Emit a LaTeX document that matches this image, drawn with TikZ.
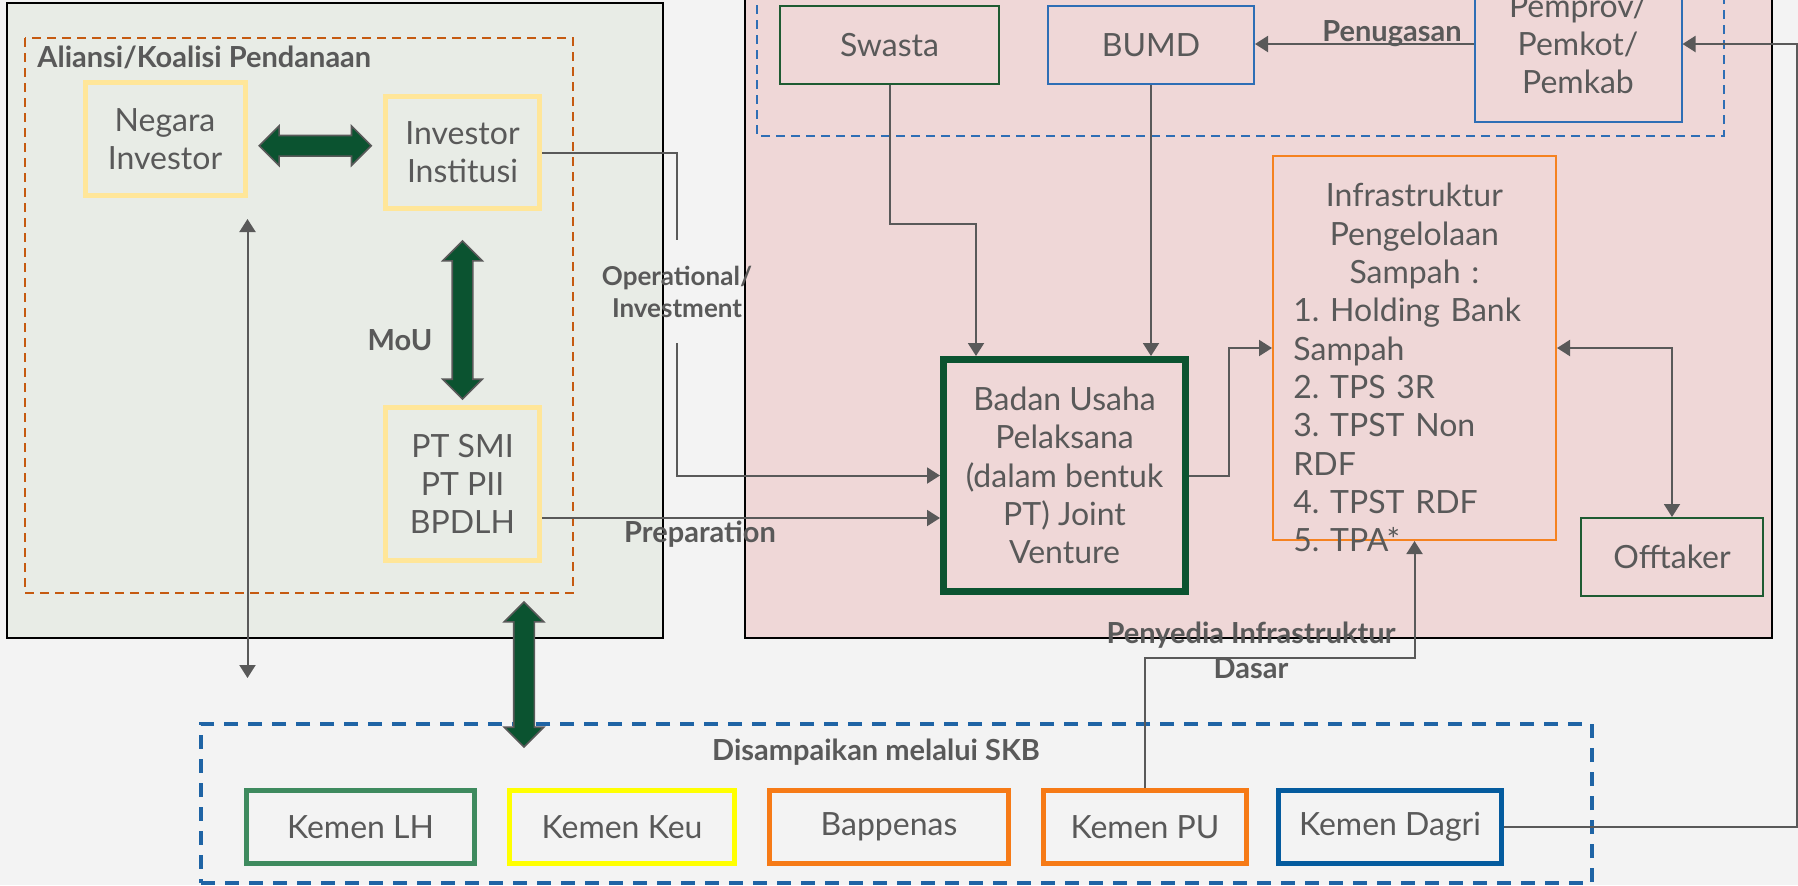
\documentclass[tikz,border=0pt]{standalone}
\usepackage{fontspec}
\setmainfont{Lato}
\usepackage{tikz}
\usetikzlibrary{shapes.arrows,arrows.meta,calc}

\definecolor{pagebg}{HTML}{F3F3F3}
\definecolor{fundbg}{HTML}{E8ECE6}
\definecolor{projbg}{HTML}{EFD7D7}
\definecolor{txtgray}{HTML}{595959}
\definecolor{fundline}{HTML}{C55A11}
\definecolor{fundyellow}{HTML}{FFE699}
\definecolor{arrowgreen}{HTML}{0B5330}
\definecolor{govblue}{HTML}{2E6EB5}
\definecolor{skbblue}{HTML}{1F64A5}
\definecolor{privgreen}{HTML}{1E5B32}
\definecolor{infraorange}{HTML}{F58220}
\definecolor{lhgreen}{HTML}{3E8A5E}
\definecolor{keuyellow}{HTML}{FFFF00}
\definecolor{bapporange}{HTML}{F67A16}
\definecolor{dagriblue}{HTML}{045B9E}

\begin{document}
\frenchspacing
\begin{tikzpicture}[x=.5pt,y=-.5pt,
box/.style={rectangle,draw,inner sep=0pt,align=center,text=txtgray,font=\fontsize{16}{19.15}\selectfont},
fund/.style={box,draw=fundyellow,line width=2.5pt},
thin/.style={box,line width=1pt},
kemen/.style={box,line width=2.5pt,minimum height=36.5pt},
lbl/.style={text=txtgray,inner sep=0pt,align=center,font=\bfseries\fontsize{14.5}{17.5}\selectfont},
conn/.style={draw=txtgray,line width=1pt},
arr/.style={conn,-{Triangle[width=8pt,length=6.5pt]}},
twoarr/.style={conn,{Triangle[width=8pt,length=6.5pt]}-{Triangle[width=8pt,length=6.5pt]}},
bigarrow/.style={double arrow,draw=txtgray,line width=.8pt,fill=arrowgreen,inner sep=4.75pt,minimum width=19pt,double arrow head extend=4.75pt}]

\useasboundingbox (0,0) rectangle (1798,885);
\clip (0,0) rectangle (1798,885);
\fill[pagebg] (0,0) rectangle (1798,885);

\draw[fill=fundbg,line width=1pt] (7,3) rectangle (663,638);
\draw[fundline,dash pattern=on 4.5pt off 3pt,line width=1pt] (25,38) rectangle (573,593);
\node[lbl,anchor=base west] (aliansi) at (37,67) {Aliansi/Koalisi Pendanaan};

\draw[fill=projbg,line width=1pt] (745,-10) rectangle (1772,638);
\draw[govblue,dash pattern=on 4.5pt off 3pt,line width=1pt] (757,-10) rectangle (1724,136);

\node[draw=skbblue,dash pattern=on 7pt off 5pt,line width=2pt,minimum width=695.5pt,minimum height=79.5pt,inner sep=0pt] (skb) at (896.5,803.5) {};
\node[lbl,anchor=base] (skblbl) at (876,760) {Disampaikan melalui SKB};

\node[fund,minimum width=80pt,minimum height=56.5pt] (negara) at (165,139) {Negara\\Investor};
\node[fund,minimum width=77pt,minimum height=56pt] (inst) at (462.5,152.5) {Investor\\Institusi};
\node[fund,minimum width=77pt,minimum height=76.5pt] (ptsmi) at (462.5,484) {PT SMI\\PT PII\\BPDLH};

\node[thin,draw=privgreen,minimum width=109.5pt,minimum height=39pt] (swasta) at (889.5,45) {Swasta};
\node[thin,draw=govblue,minimum width=103pt,minimum height=39pt] (bumd) at (1151,45) {BUMD};
\node[thin,draw=govblue,minimum width=103.5pt,minimum height=78pt] (pemprov) at (1578,44) {Pemprov/\\Pemkot/\\Pemkab};
\node[box,draw=arrowgreen,line width=3.5pt,minimum width=121pt,minimum height=116pt] (badan) at (1064.5,475.5) {Badan Usaha\\Pelaksana\\(dalam bentuk\\PT) Joint\\Venture};
\node[thin,draw=infraorange,minimum width=141.5pt,minimum height=192pt] (infra) at (1414.5,348) {};
\node[text=txtgray,font=\fontsize{16}{19.15}\selectfont,text width=121pt,align=left,anchor=north west,inner sep=0pt] (infratxt) at (1293,183) {\centering Infrastruktur\\Pengelolaan\\Sampah :\par\raggedright 1. Holding Bank\\Sampah\\2. TPS 3R\\3. TPST Non\\RDF\\4. TPST RDF\\5. TPA*};
\node[thin,draw=privgreen,minimum width=91pt,minimum height=39pt] (offtaker) at (1672,557) {Offtaker};

\foreach \nm/\cx/\bw/\col/\txt in {lh/360.5/114/lhgreen/Kemen LH,keu/622/112.5/keuyellow/Kemen Keu,bappenas/889/119.5/bapporange/Bappenas,pu/1145/101.5/bapporange/Kemen PU,dagri/1390/111.5/dagriblue/Kemen Dagri}
  \node[kemen,draw=\col,minimum width=\bw pt] (\nm) at (\cx,827) {\txt};

\node[lbl,anchor=base] (mou) at (400,350) {MoU};
\node[lbl,anchor=base] (penugasan) at (1392,41) {Penugasan};
\node[lbl,anchor=base] (prep) at (700,542) {Preparation};
\node[lbl] (penyedia) at (1251,650) {Penyedia Infrastruktur\\Dasar};
\node[lbl,font=\bfseries\fontsize{13}{16}\selectfont,minimum height=51.5pt] (oplbl) at (677,291.5) {Operational/\\Investment};

\node[bigarrow,minimum height=56pt] (allyarrow) at ($(negara.east)!.5!(inst.west)$) {};
\node[bigarrow,minimum height=79pt,shape border rotate=90] (mouarrow) at ($(inst.south)!.5!(ptsmi.north)+(0,-6pt)$) {};
\node[bigarrow,minimum height=72.5pt,shape border rotate=90] (skbarrow) at (524,674.5) {};

\draw[twoarr,shorten <=10.5pt,shorten >=22pt] (negara.south east) -- (negara.south east |- skb.north);
\draw[conn] (inst.east) -| (oplbl.north);
\draw[arr] (oplbl.south) |- (badan.west);
\draw[arr] ([yshift=-17pt]ptsmi.east) coordinate (prepstart) -- (prepstart -| badan.west);
\draw[arr] (swasta.south) -- ++(0,139) -| ([xshift=18pt]badan.north west);
\draw[arr] (bumd.south) -- (bumd.south |- badan.north);
\draw[arr] (pemprov.west) -- (pemprov.west -| bumd.east);
\draw[arr] (dagri.east) -- ++(293,0) |- (pemprov.east);
\draw[arr] (badan.east) -- ++(40,0) |- (infra.west);
\draw[twoarr] (infra.east) -| (offtaker.north);
\draw[arr] (pu.north) -- ++(0,-130) -| (infra.south);
\end{tikzpicture}
\end{document}
